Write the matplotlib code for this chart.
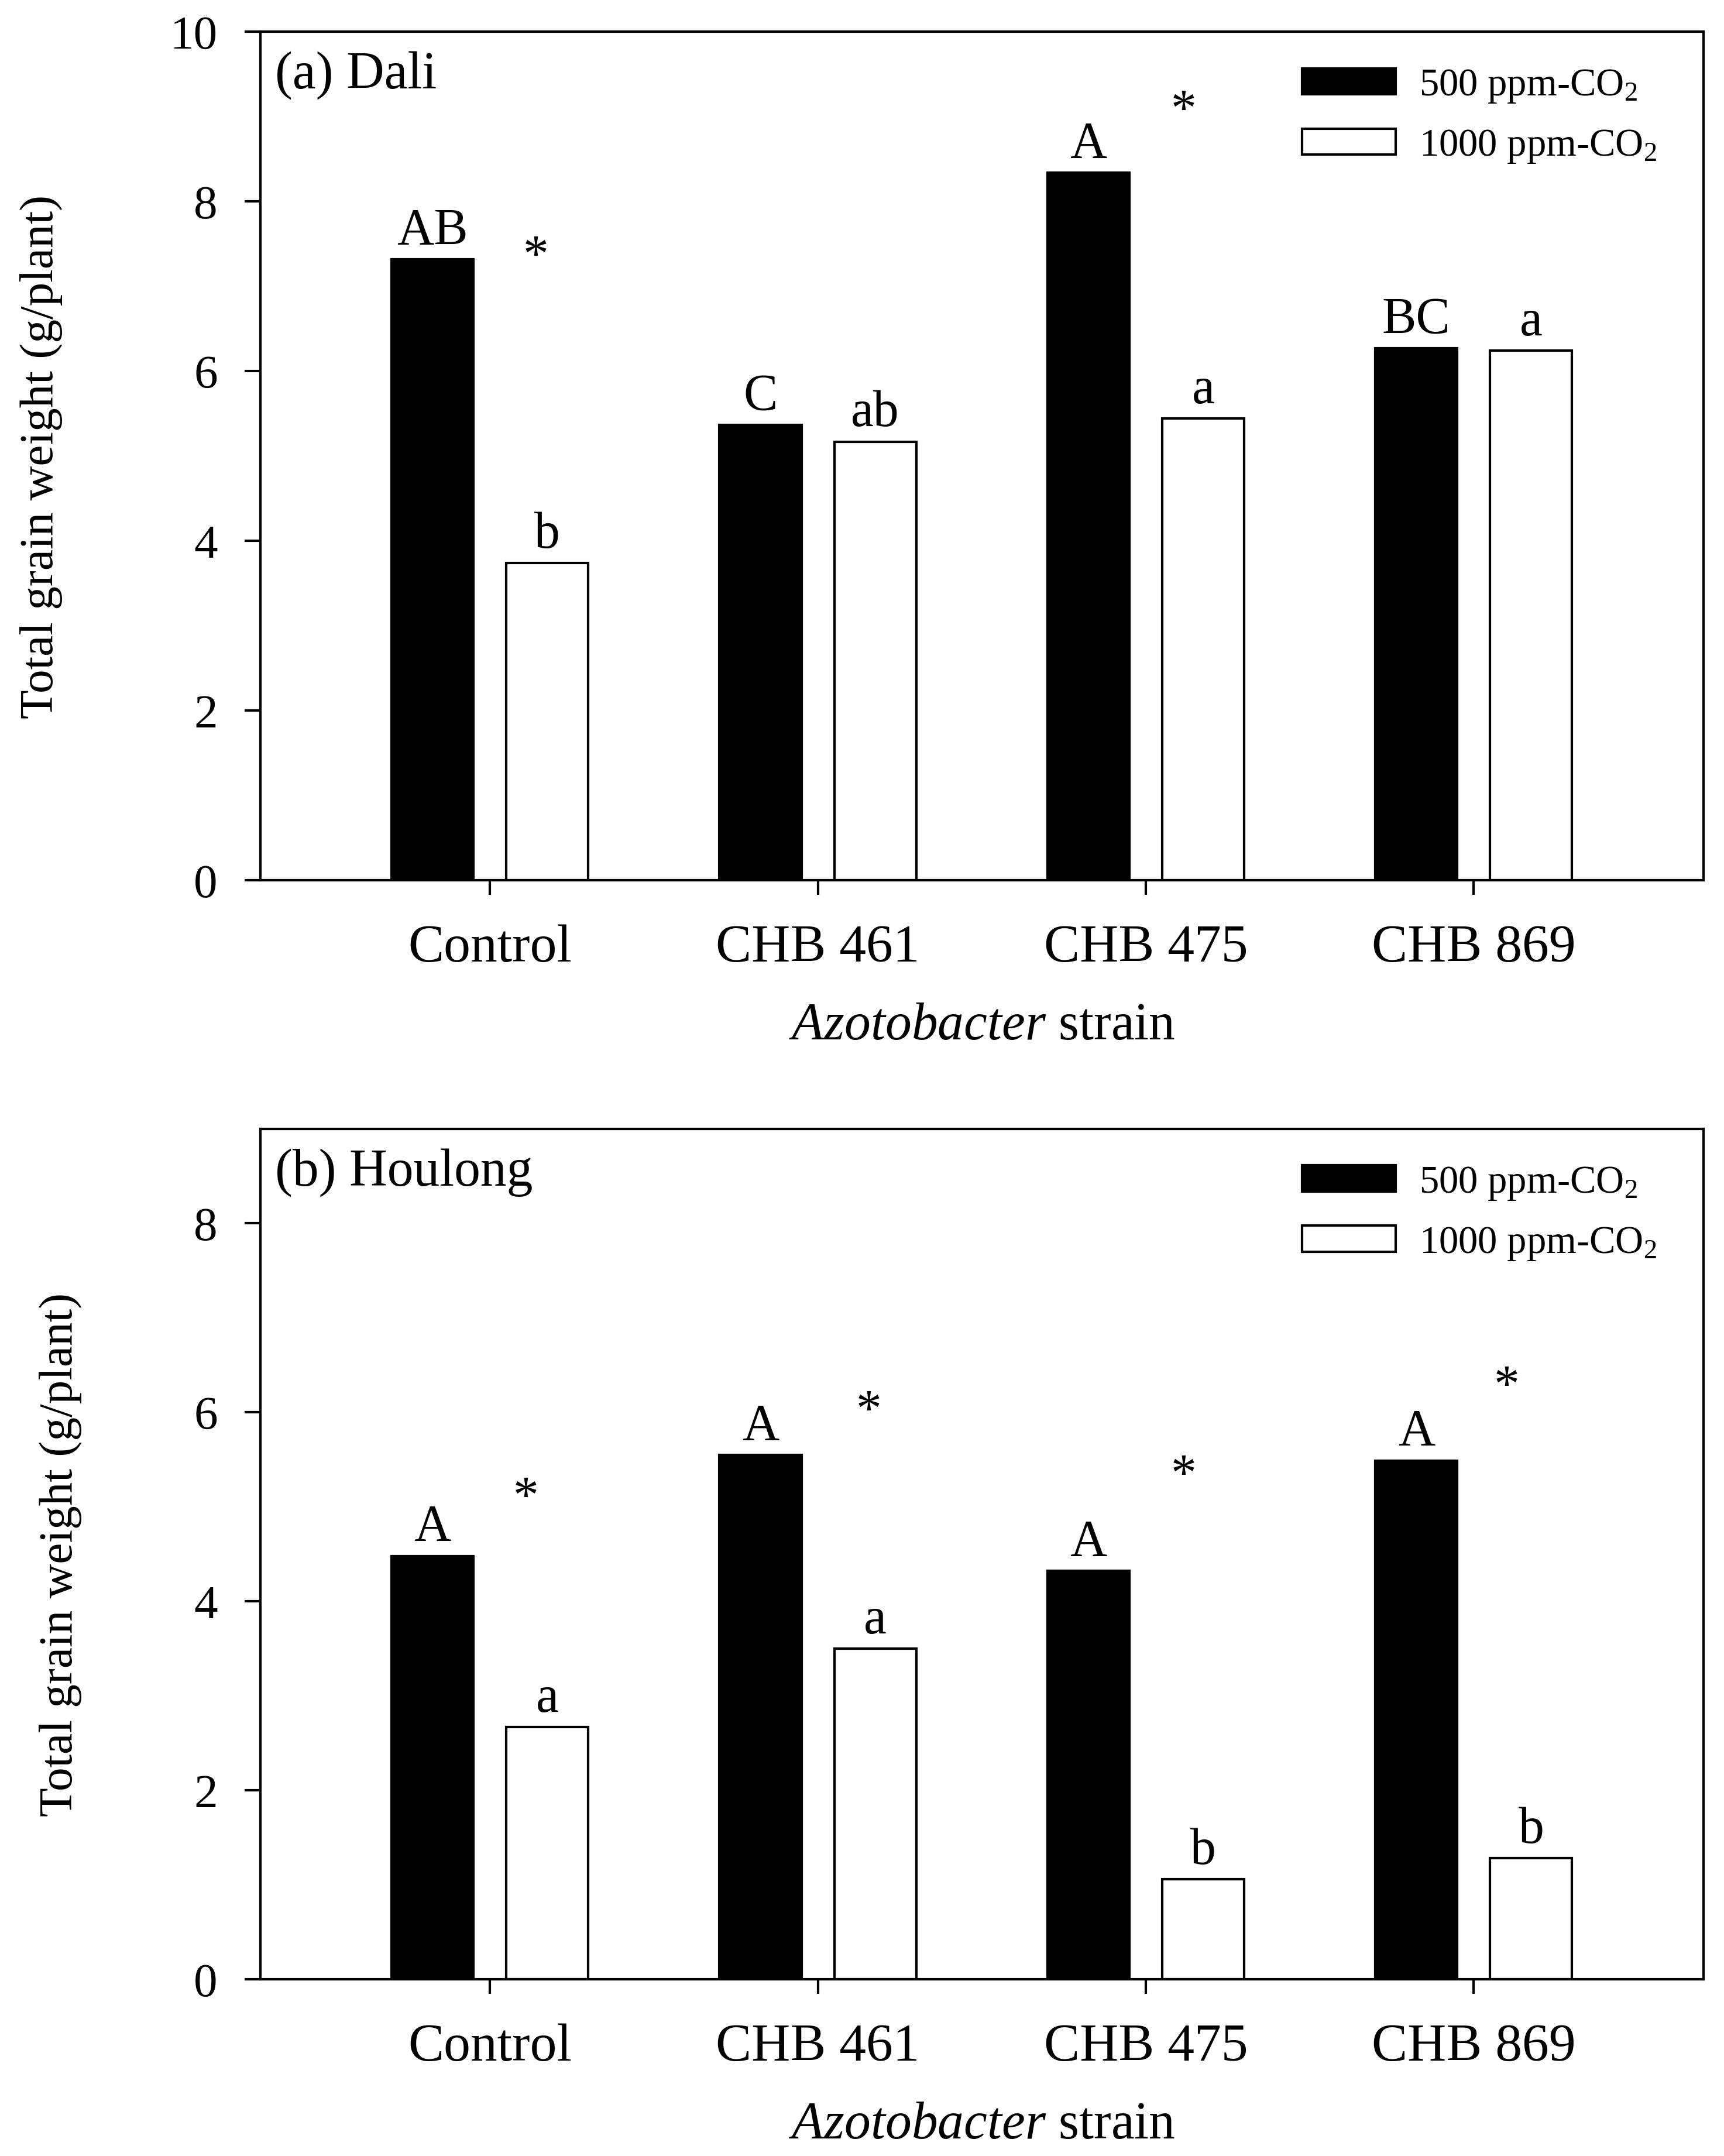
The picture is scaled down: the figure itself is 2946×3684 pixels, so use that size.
import numpy as np
import matplotlib
matplotlib.use("Agg")
import matplotlib.pyplot as plt

plt.rcParams['font.family'] = ['Liberation Serif', 'DejaVu Serif']
plt.rcParams['mathtext.fontset'] = 'custom'
plt.rcParams['mathtext.rm'] = 'Liberation Serif'
plt.rcParams['mathtext.it'] = 'Liberation Serif:italic'

# data
strains = ['Control', 'CHB 461', 'CHB 475', 'CHB 869']
series_names = ['500 ppm-CO$_2$', '1000 ppm-CO$_2$']

dali_500 = [7.32, 5.37, 8.34, 6.27]
dali_1000 = [3.74, 5.17, 5.44, 6.24]
dali_letters_500 = ['AB', 'C', 'A', 'BC']
dali_letters_1000 = ['b', 'ab', 'a', 'a']
dali_stars_x = [0.14, 2.115]
dali_stars_y = [7.48, 9.2]

houlong_500 = [4.48, 5.55, 4.32, 5.49]
houlong_1000 = [2.67, 3.50, 1.06, 1.28]
houlong_letters_500 = ['A', 'A', 'A', 'A']
houlong_letters_1000 = ['a', 'a', 'b', 'b']
houlong_stars_x = [0.11, 1.155, 2.115, 3.10]
houlong_stars_y = [5.21, 6.13, 5.45, 6.39]

fig = plt.figure(figsize=(9.82, 12.283), dpi=300)
ax_a = fig.add_axes([0.151, 0.5916, 0.837, 0.3934])
ax_b = fig.add_axes([0.151, 0.082, 0.837, 0.3943])

width = 0.25
offset = 0.175
x = np.arange(len(strains))


def draw_panel(ax, v500, v1000, let500, let1000, sx, sy, title, ymax, yticks, ypad):
    ax.bar(x - offset, v500, width, color='black', edgecolor='black', linewidth=1.0,
           label=series_names[0])
    ax.bar(x + offset, v1000, width, color='white', edgecolor='black', linewidth=1.0,
           label=series_names[1])
    for i in range(len(strains)):
        ax.annotate(let500[i], (x[i] - offset, v500[i]), xytext=(0, 6.5),
                    textcoords='offset points', ha='center', va='baseline', fontsize=21)
        ax.annotate(let1000[i], (x[i] + offset, v1000[i]), xytext=(0, 6.5),
                    textcoords='offset points', ha='center', va='baseline', fontsize=21)
    for xs, ys in zip(sx, sy):
        ax.annotate('*', (xs, ys), xytext=(0, -10), textcoords='offset points',
                    ha='center', va='baseline', fontsize=21)

    ax.set_xlim(-0.70, 3.70)
    ax.set_ylim(0, ymax)
    ax.set_yticks(yticks)
    ax.set_xticks(x)
    ax.set_xticklabels(strains, fontsize=22)
    ax.tick_params(axis='y', labelsize=19.5, direction='out', length=6.5, width=1.0, pad=11)
    ax.tick_params(axis='x', direction='out', length=6, width=1.0, pad=12)
    for s in ax.spines.values():
        s.set_linewidth(1.0)
    ax.set_ylabel('Total grain weight (g/plant)', fontsize=19.5, labelpad=ypad)
    ax.set_xlabel(r'$\mathit{Azotobacter}$ strain', fontsize=21.5, labelpad=12)
    ax.text(0.01, 0.978, title, transform=ax.transAxes, ha='left', va='top', fontsize=21.5)
    ax.legend(loc='upper left', bbox_to_anchor=(0.722, 0.958), frameon=False,
              fontsize=16, handlelength=2.4, handleheight=0.65, handletextpad=0.6,
              labelspacing=0.6, borderpad=0, borderaxespad=0)


draw_panel(ax_a, dali_500, dali_1000, dali_letters_500, dali_letters_1000,
           dali_stars_x, dali_stars_y, '(a) Dali', 10, [0, 2, 4, 6, 8, 10], 44)
draw_panel(ax_b, houlong_500, houlong_1000, houlong_letters_500, houlong_letters_1000,
           houlong_stars_x, houlong_stars_y, '(b) Houlong', 9, [0, 2, 4, 6, 8], 46)

fig.savefig('out.png', dpi=300)
